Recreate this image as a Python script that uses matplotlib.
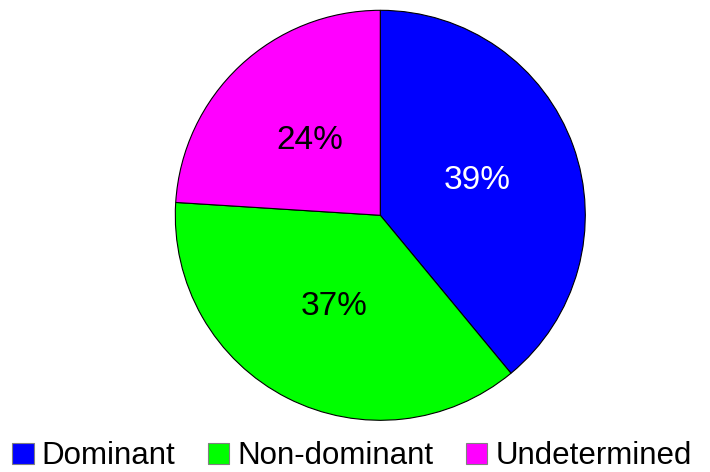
import matplotlib
matplotlib.use("Agg")
import matplotlib.pyplot as plt
from matplotlib.patches import Patch

categories = ["Dominant", "Non-dominant", "Undetermined"]
values = [39, 37, 24]
colors = ["#0000FF", "#00FF00", "#FF00FF"]
label_colors = ["white", "black", "black"]

plt.rcParams['font.family'] = ['Liberation Sans', 'DejaVu Sans']

fig = plt.figure(figsize=(7.10, 4.72), dpi=100)
r = 205
cx, cy = 380.3, 472 - 215.3
ax = fig.add_axes([(cx - r) / 710, (cy - r) / 472, 2 * r / 710, 2 * r / 472])
wedges, texts, autotexts = ax.pie(
    values, colors=colors, startangle=90, counterclock=False,
    autopct=lambda p: f"{p:.0f}%", pctdistance=0.5,
    wedgeprops=dict(edgecolor="black", linewidth=0.8),
    textprops=dict(fontsize=24))
for t, c in zip(autotexts, label_colors):
    t.set_color(c)
ax.set_aspect('auto')
ax.set_xlim(-1.0, 1.0)
ax.set_ylim(-1.0, 1.0)

handles = [Patch(facecolor=c, edgecolor="#808080", linewidth=0.8) for c in colors]
fig.legend(handles, categories, loc="center", bbox_to_anchor=(352 / 710, 1 - 456.5 / 472),
           ncol=3, frameon=False, fontsize=22.5, handlelength=0.68, handleheight=0.68,
           handletextpad=0.25, columnspacing=1.05, borderaxespad=0, borderpad=0)

fig.savefig("out.png", dpi=100)
